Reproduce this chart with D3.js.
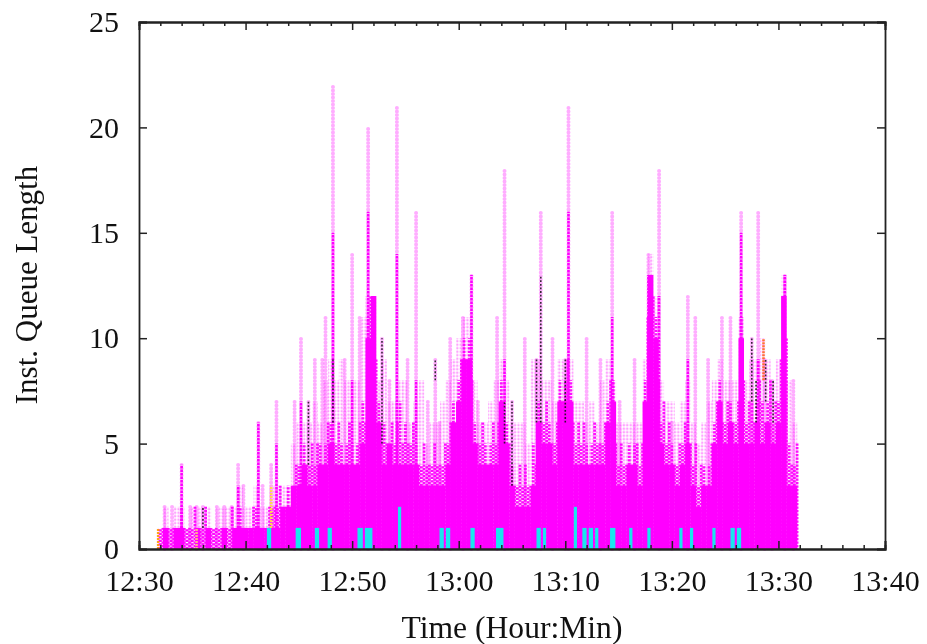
<!DOCTYPE html>
<html><head><meta charset="utf-8">
<script src="https://cdnjs.cloudflare.com/ajax/libs/d3/7.8.5/d3.min.js"></script>
<style>html,body{margin:0;background:#fff}svg{display:block;filter:blur(0.55px)}text{font-family:"Liberation Serif",serif;fill:#111}</style>
</head><body><div id="c"></div>
<script>
// All times are minutes after 12:30
const yTickValues=[0,5,10,15,20,25];
const xTickMinutes=[0,10,20,30,40,50,60,70];
const xMinorMinutes=[2,4,6,8,12,14,16,18,22,24,26,28,32,34,36,38,42,44,46,48,52,54,56,58,62,64,66,68];
const binFirst=2, binWidth=0.5;
const solidBins=[0,1,0,1,1,0,0,1,0,1,0,0,1,0,1,1,1,1,1,1,1,1,1,2,2,3,3,4,3,3,4,4,5,4,4,4,4,4,5,10,12,6,4,5,4,4,4,4,4,3,3,3,3,3,4,6,7,9,9,5,4,4,4,4,7,5,3,2,2,2,3,6,5,5,4,7,7,7,4,4,4,4,4,4,6,7,3,3,4,4,3,7,13,10,5,4,4,3,4,5,3,2,3,3,5,7,5,6,5,10,5,5,6,5,6,5,6,12,3,3];
const midCentre=[1,1,1,1,2,1,1,1,1,1,1,1,1,1,1,2,1,1,2,1,1,2,2,2,3,3,4,5,4,4,5,5,6,5,5,5,5,5,7,11,12,7,6,5,5,7,6,5,5,4,4,4,4,4,5,7,8,10,10,6,5,5,5,5,8,6,4,3,3,3,5,7,6,6,5,8,8,8,5,5,5,5,5,5,7,8,4,4,5,5,4,8,13,11,6,5,5,4,5,6,4,3,4,4,6,8,6,7,6,11,6,7,7,7,7,6,7,12,5,4];
const midEdge=[1,1,1,1,1,1,2,1,2,1,1,1,1,2,1,1,1,2,1,1,2,2,3,2,2,4,3,4,5,5,4,6,5,6,4,6,4,6,6,12,9,5,5,6,6,5,5,6,4,5,4,5,4,5,6,6,9,9,8,5,6,4,6,6,6,5,3,4,4,3,4,6,7,5,6,7,9,6,6,6,4,6,5,6,8,5,5,4,4,5,5,11,12,8,7,6,4,5,6,5,5,4,3,5,7,6,7,6,7,8,7,6,8,6,8,7,9,10,4,5];
const paleBins=[1,2,1,2,2,1,2,2,2,2,1,2,2,2,2,3,2,2,3,2,2,3,3,3,3,5,6,6,6,7,6,8,9,8,9,8,8,8,11,12,12,8,9,7,7,8,8,6,7,8,5,6,6,7,8,9,10,11,11,8,6,6,7,8,9,8,6,6,6,5,9,9,8,8,7,9,9,9,7,7,6,7,6,8,9,8,6,6,6,6,6,9,14,12,8,7,7,6,7,8,6,5,6,7,8,9,8,8,8,11,8,9,9,10,9,8,9,13,8,6];
const paleSpikeTimes=[2.4,3.1,4.0,4.8,5.4,6.0,7.3,8.0,8.7,9.3,9.8,11.2,11.6,12.4,12.9,14.6,15.2,15.9,16.5,17.2,17.5,18.2,19.3,20.0,20.7,21.5,22.8,23.5,24.2,25.2,26.0,27.1,27.8,28.2,29.2,30.4,31.2,31.8,33.6,34.3,35.0,36.2,37.3,37.7,38.8,40.0,40.3,42.0,43.3,44.4,45.1,46.5,47.8,48.8,50.0,51.5,52.2,53.4,54.7,55.5,56.5,57.5,58.1,58.7,59.4,60.6,61.4];
const paleSpikeValues=[2,2,4,2,2,2,2,2,2,4,3,6,3,4,7,7,10,7,9,9,11,22,9,14,11,20,10,8,21,9,16,7,9,6,10,11,13,7,11,18,7,10,9,16,10,9,21,10,9,16,7,9,14,18,6,12,11,9,11,11,16,10,16,9,8,13,8];
const strongSpikeTimes=[4.0,9.3,11.2,12.9,15.2,18.2,20.0,21.5,24.2,26.0,31.2,34.3,40.3,44.4,47.8,48.8,51.5,56.5,58.1,60.6];
const strongSpikeValues=[4,3,6,5,7,15,8,16,14,8,13,9,16,11,13,12,9,15,9,13];
const blackTimes=[6.0,15.9,18.2,22.8,27.8,34.3,35.0,37.3,37.7,40.0,57.5,57.9,58.8,59.5];
const blackFrom=[1,4,6,5,8,5,3,6,6,6,7,6,7,6];
const blackTo=[2,7,9,10,9,7,7,9,13,9,10,8,9,8];
const warmTimes=[1.8,5.4,12.4,58.6];
const warmFrom=[0,0,1,8];
const warmTo=[1,1,3,10];
const warmColors=["#ff9a00","#ffc080","#ffe040","#ff6a20"];
const cyanFrom=[12.0,14.7,16.5,17.7,20.5,21.2,24.3,28.2,28.8,31.1,33.5,37.3,37.9,40.8,41.6,42.2,42.8,44.2,46.0,47.7,50.7,51.7,53.8,55.5,56.1];
const cyanTo=[12.4,15.2,16.9,18.1,21.0,21.9,24.6,28.6,29.2,31.5,34.2,37.7,38.2,41.1,42.0,42.6,43.1,44.7,46.3,48.0,51.0,52.0,54.1,55.9,56.5];
const cyanTop=[1,1,1,1,1,1,2,1,1,1,1,1,1,2,1,1,1,1,1,1,1,1,1,1,1];
const magenta="#ff00ff";

const W=927,H=644,m={l:139,r:42,t:22,b:95};
const base=new Date(2000,0,1,12,30);
const toDate=t=>new Date(+base+t*60000);
const x=d3.scaleTime().domain([toDate(0),toDate(70)]).range([m.l,W-m.r]);
const y=d3.scaleLinear().domain([0,25]).range([H-m.b,m.t]);
const svg=d3.select("#c").append("svg").attr("width",W).attr("height",H);
const defs=svg.append("defs");
const pat=defs.append("pattern").attr("id","stip").attr("width",3.4).attr("height",3.5).attr("patternUnits","userSpaceOnUse");
pat.append("circle").attr("cx",1.7).attr("cy",1.75).attr("r",1.25).attr("fill",magenta).attr("opacity",.36);

const marks=svg.append("g");
const binW=x(toDate(binWidth))-x(toDate(0));
const binX=i=>x(toDate(binFirst+i*binWidth))-binW/2;
marks.selectAll("rect.pale").data(paleBins).join("rect").attr("class","pale")
 .attr("x",(d,i)=>binX(i)).attr("width",binW+.2).attr("y",d=>y(d)).attr("height",d=>y(0)-y(d)).attr("fill","url(#stip)");
const vline=(g,times,froms,tos,col,w,dash,op,offset)=>g.append("g").selectAll("line").data(times).join("line")
 .attr("x1",t=>x(toDate(t))).attr("x2",t=>x(toDate(t)))
 .attr("y1",(t,i)=>y(froms[i])).attr("y2",(t,i)=>y(tos[i]))
 .attr("stroke",(t,i)=>Array.isArray(col)?col[i]:col).attr("stroke-width",w)
 .attr("stroke-dasharray",dash).attr("stroke-dashoffset",offset||0).attr("stroke-linecap",dash==="0 3.5"?"round":"butt").attr("opacity",op);
vline(marks,paleSpikeTimes,paleSpikeTimes.map(()=>0),paleSpikeValues,magenta,4,"0 3.5",.32);
vline(marks,strongSpikeTimes,strongSpikeTimes.map(()=>0),strongSpikeValues,magenta,2.6,"2.6 0.9",1);
const centreTimes=midCentre.map((d,i)=>binFirst+i*binWidth);
const edgeTimes=midEdge.map((d,i)=>binFirst+(i+.5)*binWidth);
vline(marks,centreTimes,midCentre.map(()=>0),midCentre,magenta,2.8,"2.2 1.3",.95);
vline(marks,edgeTimes,midEdge.map(()=>0),midEdge,magenta,2.8,"2.2 1.3",.95,1.75);
marks.selectAll("rect.solid").data(solidBins).join("rect").attr("class","solid")
 .attr("x",(d,i)=>binX(i)).attr("width",binW+.2).attr("y",d=>y(d)).attr("height",d=>y(0)-y(d)).attr("fill",magenta);
marks.selectAll("rect.cyan").data(cyanFrom).join("rect").attr("class","cyan")
 .attr("x",d=>x(toDate(d))).attr("width",(d,i)=>x(toDate(cyanTo[i]))-x(toDate(d)))
 .attr("y",(d,i)=>y(cyanTop[i])).attr("height",(d,i)=>y(0)-y(cyanTop[i])).attr("fill","#19e6ee");
vline(marks,blackTimes,blackFrom,blackTo,"#111",1.6,"1.8 1.8",.85);
vline(marks,warmTimes,warmFrom,warmTo,warmColors,2.6,"2 1",.9);

const fmt=d3.timeFormat("%H:%M");
const tickLen=8;
const xDates=xTickMinutes.map(toDate), xMinor=xMinorMinutes.map(toDate);
const axes=[];
axes.push(svg.append("g").attr("transform",`translate(0,${y(0)})`).call(d3.axisBottom(x).tickValues(xMinor).tickFormat("").tickSize(-4)));
axes.push(svg.append("g").attr("transform",`translate(0,${y(25)})`).call(d3.axisTop(x).tickValues(xMinor).tickFormat("").tickSize(-4)));
axes.push(svg.append("g").attr("transform",`translate(0,${y(0)})`).call(d3.axisBottom(x).tickValues(xDates).tickFormat(fmt).tickSize(-tickLen).tickPadding(21)));
axes.push(svg.append("g").attr("transform",`translate(0,${y(25)})`).call(d3.axisTop(x).tickValues(xDates).tickFormat("").tickSize(-tickLen)));
axes.push(svg.append("g").attr("transform",`translate(${m.l},0)`).call(d3.axisLeft(y).tickValues(yTickValues).tickSize(-tickLen).tickPadding(20)));
axes.push(svg.append("g").attr("transform",`translate(${W-m.r},0)`).call(d3.axisRight(y).tickValues(yTickValues).tickFormat("").tickSize(-tickLen)));
axes.forEach(g=>{
 g.selectAll("path").attr("stroke","#222").attr("stroke-width",1.8);
 g.selectAll("line").attr("stroke","#222").attr("stroke-width",1.5);
 g.selectAll("text").attr("font-size",30).attr("font-family","Liberation Serif").attr("fill","#111");
});
svg.append("text").attr("x",512).attr("y",638).attr("text-anchor","middle").attr("font-size",31.6).text("Time (Hour:Min)");
svg.append("text").attr("transform","translate(37,285) rotate(-90)").attr("text-anchor","middle").attr("font-size",31).text("Inst. Queue Length");
</script></body></html>
